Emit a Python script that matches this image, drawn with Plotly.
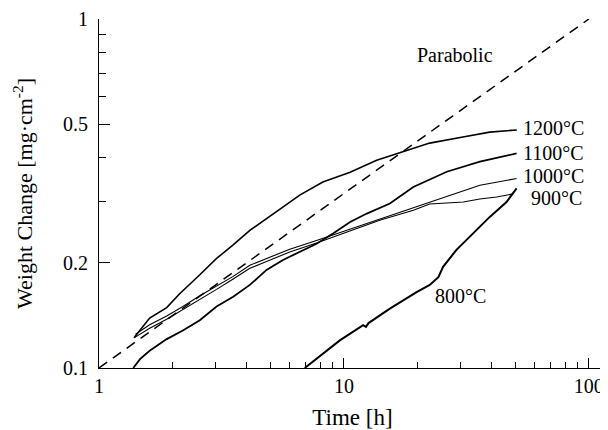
import numpy as np
import plotly.graph_objects as go

# time [h] / weight change [mg cm^-2]
t_1200 = [1.39, 1.61, 1.89, 2.13, 2.58, 3.02, 3.52, 4.13, 5.63, 6.60, 8.20, 10.6, 13.6, 18.1, 22.4, 30.6, 39.4, 50.8]
w_1200 = [0.122, 0.139, 0.149, 0.163, 0.185, 0.206, 0.225, 0.248, 0.289, 0.313, 0.341, 0.364, 0.394, 0.421, 0.441, 0.459, 0.474, 0.481]

t_1100 = [1.38, 1.47, 1.61, 1.89, 2.20, 2.58, 3.02, 3.53, 4.13, 4.83, 5.64, 6.60, 7.73, 9.03, 10.6, 12.4, 15.4, 19.2, 26.3, 35.9, 50.7]
w_1100 = [0.100, 0.106, 0.112, 0.121, 0.128, 0.137, 0.150, 0.160, 0.173, 0.191, 0.204, 0.215, 0.227, 0.243, 0.262, 0.277, 0.296, 0.330, 0.365, 0.390, 0.412]

t_1000 = [1.41, 1.61, 1.89, 2.20, 2.58, 3.02, 3.53, 4.13, 4.83, 6.01, 7.73, 10.6, 14.0, 19.2, 26.3, 35.9, 50.7]
w_1000 = [0.125, 0.133, 0.141, 0.150, 0.161, 0.172, 0.183, 0.197, 0.206, 0.219, 0.232, 0.250, 0.267, 0.287, 0.309, 0.334, 0.349]

t_900 = [1.39, 1.61, 1.89, 2.20, 2.58, 3.02, 3.53, 4.13, 4.83, 6.01, 7.73, 10.6, 14.0, 19.2, 22.4, 26.3, 30.7, 35.9, 42.0, 48.5]
w_900 = [0.122, 0.130, 0.138, 0.147, 0.157, 0.168, 0.180, 0.193, 0.202, 0.215, 0.228, 0.247, 0.265, 0.283, 0.295, 0.297, 0.299, 0.305, 0.309, 0.315]

t_800 = [6.92, 8.22, 9.62, 11.98, 12.3, 12.6, 15.4, 19.8, 22.4, 24.3, 25.4, 28.8, 33.7, 39.4, 46.1, 50.7]
w_800 = [0.100, 0.110, 0.120, 0.1326, 0.1312, 0.1345, 0.148, 0.165, 0.173, 0.182, 0.195, 0.218, 0.243, 0.271, 0.299, 0.327]

t_parabolic = [1, 100]
w_parabolic = [0.1, 1]

series = [
    (t_1200, w_1200, 1.6),
    (t_1100, w_1100, 1.8),
    (t_1000, w_1000, 1.1),
    (t_900, w_900, 1.1),
    (t_800, w_800, 2.0),
]

font = "Liberation Serif, Times New Roman, serif"

fig = go.Figure()
for t, w, lw in series:
    fig.add_trace(go.Scatter(x=t, y=w, mode="lines",
                             line=dict(color="black", width=lw)))

fig.add_trace(go.Scatter(x=t_parabolic, y=w_parabolic, mode="lines",
                         line=dict(color="black", width=1.5, dash="10px,7px")))

# curve labels (positions in log10 units)
labels = [
    ("Parabolic", 1.29, -0.103),
    ("1200°C", 1.722, -0.313),
    ("1100°C", 1.722, -0.384),
    ("1000°C", 1.722, -0.450),
    ("900°C", 1.755, -0.513),
    ("800°C", 1.363, -0.794),
]
for text, x, y in labels:
    fig.add_annotation(text=text, x=x, y=y, xref="x", yref="y",
                       xanchor="left", yanchor="middle", showarrow=False,
                       font=dict(size=20, color="black", family=font))

# page body adds an 8px offset, so the figure is 8px smaller and margins shifted
fig.update_layout(
    width=600, height=422,
    margin=dict(l=91, r=2, t=11, b=62),
    paper_bgcolor="white", plot_bgcolor="white",
    showlegend=False,
    font=dict(family=font, size=20, color="black"),
)

fig.update_xaxes(
    type="log", range=[0, 2.07], automargin=False,
    showgrid=False, zeroline=False,
    showline=True, linecolor="black", linewidth=1,
    ticks="inside", ticklen=10, tickcolor="black",
    tickvals=[1, 10, 100], ticktext=["1", "10", "100"],
    tickfont=dict(size=20),
    minor=dict(ticks="inside", ticklen=6, tickcolor="black",
               tickvals=[2, 3, 4, 5, 6, 7, 8, 9, 20, 30, 40, 50, 60, 70, 80, 90]),
    title=dict(text="Time [h]", font=dict(size=23), standoff=21),
)
fig.update_yaxes(
    type="log", range=[-1, 0], automargin=False,
    showgrid=False, zeroline=False,
    showline=True, linecolor="black", linewidth=1,
    ticks="inside", ticklen=11, tickcolor="black",
    tickvals=[0.1, 0.2, 0.5, 1], ticktext=["0.1", "0.2", "0.5", "1"],
    tickfont=dict(size=20), ticklabelstandoff=6,
    minor=dict(ticks="inside", ticklen=7, tickcolor="black",
               tickvals=[0.3, 0.4, 0.6, 0.7, 0.8, 0.9]),
    title=dict(text="Weight Change [mg·cm<sup>-2</sup>]", font=dict(size=22), standoff=24),
)

fig.write_html("out.html")
